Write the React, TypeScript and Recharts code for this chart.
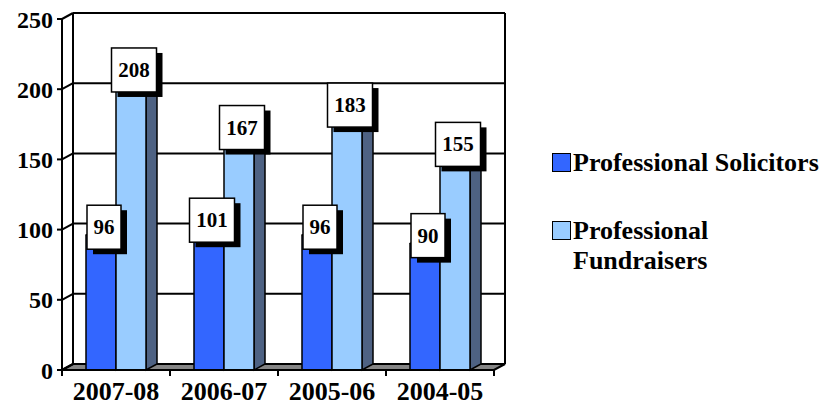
import { BarChart, Bar, XAxis, YAxis, CartesianGrid, Legend, LabelList } from 'recharts'

const categories = ['2007-08', '2006-07', '2005-06', '2004-05']
const solicitors = [96, 101, 96, 90]
const fundraisers = [208, 167, 183, 155]
const yTicks = [0, 50, 100, 150, 200, 250]
const seriesOrder = ['Professional Solicitors', 'Professional Fundraisers']

const data = categories.map((c, i) => ({
    name: c,
    'Professional Solicitors': solicitors[i],
    'Professional Fundraisers': fundraisers[i],
}))

// depth of the fake 3D box
const DX = 11
const DY = 6
const FONT = '"Liberation Serif", "Times New Roman", serif'
const SIDE = '#4e6283'

function Bar3D(props: any) {
    const { x, y, width, height, fill } = props
    if (!height) return null
    const r = x + width
    const b = y + height
    return (
        <g>
            <polygon points={`${r},${y} ${r + DX},${y - DY} ${r + DX},${b - DY} ${r},${b}`} fill={SIDE} stroke="#000" strokeWidth={1.5} />
            <polygon points={`${x},${y} ${x + DX},${y - DY} ${r + DX},${y - DY} ${r},${y}`} fill={fill} stroke="#000" strokeWidth={1.5} />
            <rect x={x} y={y} width={width} height={height} fill={fill} stroke="#000" strokeWidth={1.5} />
        </g>
    )
}

function ValueBox(props: any) {
    const { x, y, width, value } = props
    const cx = x + width / 2 + 3
    const cy = y - 8
    const w = String(value).length > 2 ? 45 : 34
    const h = 44
    return (
        <g>
            <rect x={cx - w / 2 + 6} y={cy - h / 2 + 5} width={w} height={h} fill="#000" />
            <rect x={cx - w / 2} y={cy - h / 2} width={w} height={h} fill="#fff" stroke="#000" strokeWidth={1.5} />
            <text x={cx} y={cy} textAnchor="middle" dominantBaseline="central" fontFamily={FONT} fontWeight="bold" fontSize={21} fill="#000">
                {value}
            </text>
        </g>
    )
}

// back wall gridline + the short diagonal from the front axis; floor on the zero line
function GridLine3D(props: any) {
    const { x1, y1, x2, y, height } = props
    const isFloor = Math.abs(y1 - (y + height)) < 1
    return (
        <g key={props.key}>
            {isFloor && (
                <polygon
                    points={`${x1},${y1} ${x2},${y1} ${x2 + DX},${y1 - DY} ${x1 + DX},${y1 - DY}`}
                    fill="#858585" stroke="#000" strokeWidth={2}
                />
            )}
            {!isFloor && <line x1={x1 + DX} y1={y1 - DY} x2={x2 + DX} y2={y1 - DY} stroke="#000" strokeWidth={2} />}
            <line x1={x1} y1={y1} x2={x1 + DX} y2={y1 - DY} stroke="#000" strokeWidth={2} />
        </g>
    )
}

function WallEdge(props: any) {
    const { x1, y1, y2 } = props
    return <line key={props.key} x1={x1 + DX} y1={y1 - DY} x2={x1 + DX} y2={y2 - DY} stroke="#000" strokeWidth={2} />
}

function CategoryTick(props: any) {
    const { x, y, payload, index, visibleTicksCount, width } = props
    const band = width / visibleTicksCount
    const last = index === visibleTicksCount - 1
    return (
        <g>
            <line x1={x - band / 2} y1={y - 6} x2={x - band / 2} y2={y} stroke="#000" strokeWidth={2} />
            {last && <line x1={x + band / 2} y1={y - 6} x2={x + band / 2} y2={y} stroke="#000" strokeWidth={2} />}
            <text x={x} y={y + 24} textAnchor="middle" fontFamily={FONT} fontWeight="bold" fontSize={26} fill="#000">
                {payload.value}
            </text>
        </g>
    )
}

function LegendBox({ payload }: any) {
    const items = [...(payload || [])].sort((a: any, b: any) => seriesOrder.indexOf(a.value) - seriesOrder.indexOf(b.value))
    return (
        <div style={{ width: 277, fontFamily: FONT, fontWeight: 'bold', fontSize: 26, color: '#000', lineHeight: '30px' }}>
            {items.map((p: any, i: number) => (
                <div key={p.value} style={{ display: 'flex', alignItems: 'flex-start', marginBottom: i === 0 ? 38 : 0 }}>
                    <span style={{ width: 17, height: 17, background: p.color, border: '1px solid #000', marginTop: 5, marginRight: 2, flexShrink: 0 }} />
                    <span style={{ width: i === 0 ? 270 : 145 }}>{p.value}</span>
                </div>
            ))}
        </div>
    )
}

export default function App() {
    return (
        <div style={{ position: 'absolute', left: 0, top: 0, background: '#fff' }}>
            <BarChart
                width={827}
                height={413}
                data={data}
                margin={{ top: 19, right: 333, bottom: 0, left: 0 }}
                barCategoryGap={24}
                barGap={0}
            >
                <CartesianGrid
                    horizontal={GridLine3D}
                    vertical={WallEdge}
                    verticalCoordinatesGenerator={({ offset }: any) => [offset.left, offset.left + offset.width]}
                />
                <XAxis
                    dataKey="name"
                    height={43}
                    axisLine={{ stroke: '#000', strokeWidth: 2 }}
                    tickLine={false}
                    tickSize={6}
                    tickMargin={0}
                    tick={<CategoryTick />}
                    interval={0}
                />
                <YAxis
                    width={62}
                    domain={[0, 250]}
                    ticks={yTicks}
                    axisLine={{ stroke: '#000', strokeWidth: 2 }}
                    tickLine={{ stroke: '#000', strokeWidth: 2 }}
                    tickSize={5}
                    tickMargin={4}
                    tick={{ fontFamily: FONT, fontWeight: 'bold', fontSize: 24, fill: '#000' }}
                />
                <Legend
                    layout="horizontal"
                    verticalAlign="middle"
                    align="right"
                    content={<LegendBox />}
                    wrapperStyle={{ left: 552, top: 148, width: 0, height: 0, overflow: 'visible' }}
                />
                <Bar dataKey="Professional Solicitors" fill="#3366ff" shape={<Bar3D />} isAnimationActive={false}>
                    <LabelList dataKey="Professional Solicitors" content={<ValueBox />} />
                </Bar>
                <Bar dataKey="Professional Fundraisers" fill="#99ccff" shape={<Bar3D />} isAnimationActive={false}>
                    <LabelList dataKey="Professional Fundraisers" content={<ValueBox />} />
                </Bar>
            </BarChart>
        </div>
    )
}
